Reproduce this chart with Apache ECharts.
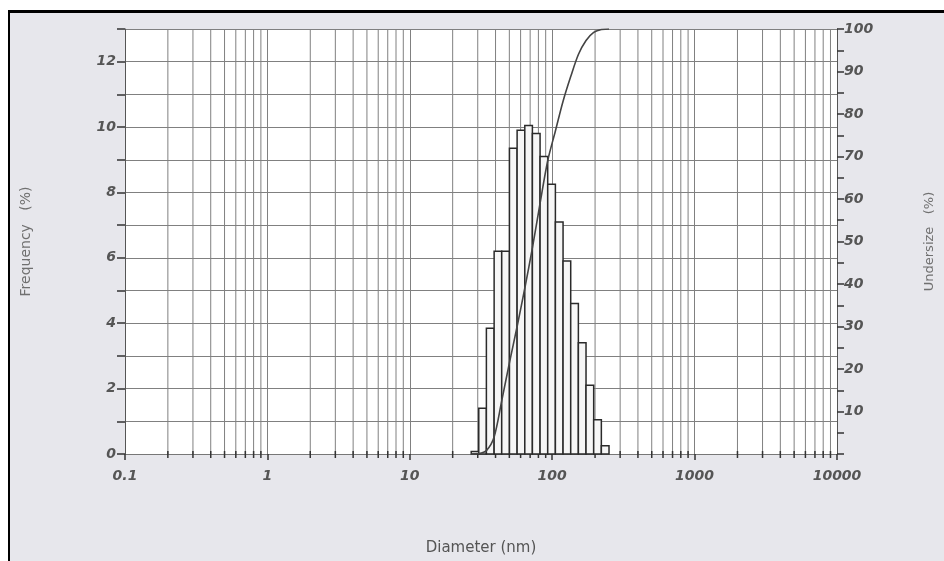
<!DOCTYPE html>
<html style="height: 100%">
<head>
  <meta charset="utf-8">
  <title>Particle size distribution</title>
</head>
<body style="height: 100%; margin: 0; background: #fff">
  <div id="container" style="width: 944px; height: 561px"></div>
  <script src="https://cdn.jsdelivr.net/npm/echarts@6/dist/echarts.min.js"></script>
  <script>
    // bin edges (nm), 18 bins
    const diameterEdges = [27.0, 30.5, 34.5, 39.1, 44.2, 50.1, 56.7, 64.2, 72.6, 82.2,
      93.0, 105.3, 119.2, 134.9, 152.7, 172.8, 195.6, 221.4, 250.6];
    // frequency (%) per bin
    const frequency = [0.08, 1.4, 3.85, 6.2, 6.2, 9.35, 9.9, 10.05, 9.8, 9.1,
      8.25, 7.1, 5.9, 4.6, 3.4, 2.1, 1.05, 0.25];
    // cumulative undersize (%) at each bin edge
    const undersize = [0, 0.1, 0.8, 4.0, 12.5, 21.5, 30, 39, 48.5, 59,
      69, 76, 83, 88.8, 94, 97.3, 99.2, 99.9, 100];
    // minor vertical grid positions (2..9 x each decade)
    const minorGrid = [0.2, 0.3, 0.4, 0.5, 0.6, 0.7, 0.8, 0.9,
      2, 3, 4, 5, 6, 7, 8, 9,
      20, 30, 40, 50, 60, 70, 80, 90,
      200, 300, 400, 500, 600, 700, 800, 900,
      2000, 3000, 4000, 5000, 6000, 7000, 8000, 9000];
    const xTickLabels = ['0.1', '1', '10', '100', '1000', '10000'];

    const FONT = 'DejaVu Sans';
    const gridColor = '#808080';

    const binData = frequency.map((f, i) => [diameterEdges[i], diameterEdges[i + 1], f]);
    const curveData = diameterEdges.map((d, i) => [d, undersize[i]]);

    let chart = echarts.init(document.getElementById('container'));

    const tickLabel = {
      color: '#555', fontSize: 14, fontWeight: 'bold', fontStyle: 'italic', fontFamily: FONT
    };

    let option = {
      backgroundColor: '#e7e7ec',
      animation: false,
      textStyle: { fontFamily: FONT },
      graphic: [
        { type: 'rect', shape: { x: 0, y: 0, width: 944, height: 10 }, style: { fill: '#fff' }, z: 100 },
        { type: 'rect', shape: { x: 0, y: 0, width: 8, height: 561 }, style: { fill: '#fff' }, z: 100 },
        { type: 'rect', shape: { x: 8, y: 10, width: 936, height: 3 }, style: { fill: '#000' }, z: 101 },
        { type: 'rect', shape: { x: 8, y: 10, width: 2, height: 551 }, style: { fill: '#000' }, z: 101 }
      ],
      grid: {
        left: 125,
        right: 102.5,
        top: 29,
        bottom: 102,
        show: true,
        backgroundColor: '#fff',
        borderWidth: 0
      },
      xAxis: {
        type: 'log',
        logBase: 10,
        min: 0.1,
        max: 10000,
        name: 'Diameter (nm)',
        nameLocation: 'middle',
        nameGap: 87,
        nameTextStyle: { color: '#555', fontSize: 15 },
        axisLine: { show: true, lineStyle: { color: '#777', width: 1 } },
        axisTick: { show: true, length: 6, lineStyle: { color: '#333', width: 1.5 } },
        axisLabel: Object.assign({}, tickLabel, {
          margin: 15,
          formatter: function (v) {
            const s = String(+v.toPrecision(6));
            return xTickLabels.indexOf(s) >= 0 ? s : '';
          }
        }),
        splitLine: { show: true, lineStyle: { color: gridColor, width: 1 } }
      },
      yAxis: [
        {
          type: 'value',
          min: 0,
          max: 13,
          interval: 1,
          name: 'Frequency   (%)',
          nameLocation: 'middle',
          nameRotate: 90,
          nameGap: 92,
          nameTextStyle: { color: '#707070', fontSize: 14 },
          axisLine: { show: true, lineStyle: { color: '#555', width: 1 } },
          axisTick: { show: true, length: 8, lineStyle: { color: '#333', width: 1.5 } },
          axisLabel: Object.assign({}, tickLabel, {
            margin: 9,
            formatter: v => (v % 2 === 0 ? String(v) : '')
          }),
          splitLine: { show: true, lineStyle: { color: gridColor, width: 1 } }
        },
        {
          type: 'value',
          min: 0,
          max: 100,
          interval: 5,
          name: 'Undersize   (%)',
          nameLocation: 'middle',
          nameRotate: 90,
          nameGap: 86,
          nameTextStyle: { color: '#707070', fontSize: 13 },
          axisLine: { show: true, lineStyle: { color: '#555', width: 1 } },
          axisTick: { show: true, length: 7, lineStyle: { color: '#333', width: 1.5 } },
          axisLabel: Object.assign({}, tickLabel, {
            margin: 7,
            formatter: v => (v % 10 === 0 && v > 0 ? String(v) : '')
          }),
          splitLine: { show: false }
        }
      ],
      series: [
        {
          // minor log grid lines and their ticks
          type: 'custom',
          silent: true,
          z: 1,
          data: minorGrid,
          encode: { x: 0 },
          renderItem: (params, api) => {
            const top = api.coord([api.value(0), 13]);
            const bot = api.coord([api.value(0), 0]);
            return {
              type: 'group',
              children: [
                {
                  type: 'line',
                  shape: { x1: top[0], y1: top[1], x2: bot[0], y2: bot[1] },
                  style: { stroke: gridColor, lineWidth: 1 }
                },
                {
                  type: 'line',
                  shape: { x1: bot[0], y1: bot[1] - 3, x2: bot[0], y2: bot[1] + 4 },
                  style: { stroke: '#333', lineWidth: 1.5 }
                }
              ]
            };
          }
        },
        {
          name: 'Frequency',
          type: 'custom',
          z: 3,
          data: binData,
          encode: { x: [0, 1], y: 2 },
          renderItem: (params, api) => {
            const p0 = api.coord([api.value(0), 0]);
            const p1 = api.coord([api.value(1), api.value(2)]);
            return {
              type: 'rect',
              shape: { x: p0[0], y: p1[1], width: p1[0] - p0[0], height: p0[1] - p1[1] },
              style: { fill: '#f6f6f6', stroke: '#2a2a2a', lineWidth: 1.5 }
            };
          }
        },
        {
          name: 'Undersize',
          type: 'line',
          yAxisIndex: 1,
          z: 4,
          data: curveData,
          smooth: 0.3,
          symbol: 'none',
          lineStyle: { color: '#444', width: 1.6 }
        }
      ]
    };

    chart.setOption(option);
  </script>
</body>
</html>
